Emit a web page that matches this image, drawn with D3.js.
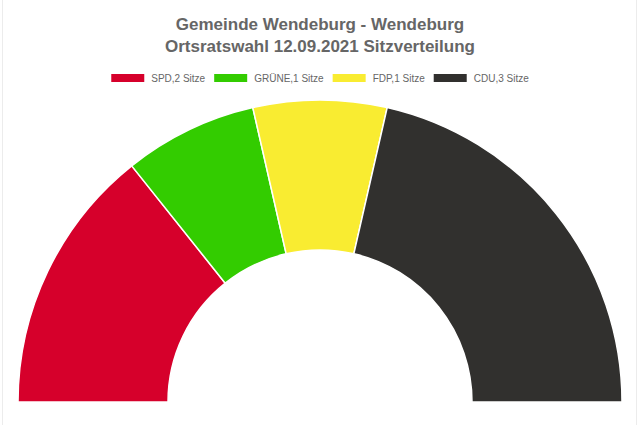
<!DOCTYPE html>
<html>
<head>
<meta charset="utf-8">
<script src="https://cdn.jsdelivr.net/npm/d3@7"></script>
<style>
  html, body { margin: 0; padding: 0; background: #fff; }
  svg { display: block; }
  text { font-family: "Liberation Sans", Arial, sans-serif; }
</style>
</head>
<body>
<svg id="chart" width="639" height="425"></svg>
<script>
const titleLines = ["Gemeinde Wendeburg - Wendeburg", "Ortsratswahl 12.09.2021 Sitzverteilung"];
const parties = ["SPD", "GRÜNE", "FDP", "CDU"];
const seats = [2, 1, 1, 3];
const colors = ["#D6002B", "#33CC00", "#F9EC31", "#31302E"];
const legendLabels = parties.map((p, i) => `${p},${seats[i]} Sitze`);

const svg = d3.select("#chart");
const W = 639, H = 425;

// faint frame lines
svg.append("line").attr("x1", 2.5).attr("x2", 2.5).attr("y1", 0).attr("y2", H)
  .attr("stroke", "#ececec").attr("stroke-width", 1);
svg.append("line").attr("x1", 636.5).attr("x2", 636.5).attr("y1", 0).attr("y2", H)
  .attr("stroke", "#ececec").attr("stroke-width", 1);

// title
svg.selectAll("text.title").data(titleLines).enter().append("text")
  .attr("class", "title")
  .attr("x", 320).attr("y", (d, i) => 30 + i * 21.5)
  .attr("text-anchor", "middle")
  .attr("font-weight", "bold")
  .attr("font-size", 17)
  .attr("fill", "#666")
  .text(d => d);

// legend
const legend = svg.append("g");
const items = legend.selectAll("g").data(legendLabels).enter().append("g");
items.append("rect").attr("x", 0).attr("y", 74).attr("width", 33).attr("height", 8)
  .attr("fill", (d, i) => colors[i]);
items.append("text").attr("x", 40).attr("y", 82)
  .attr("font-size", 10)
  .attr("fill", "#666")
  .text(d => d);
let xpos = 0;
const gap = 9;
items.each(function () {
  const g = d3.select(this);
  const tw = g.select("text").node().getComputedTextLength();
  g.attr("transform", `translate(${xpos},0)`);
  xpos += 40 + tw + gap;
});
const totalW = xpos - gap;
legend.attr("transform", `translate(${320 - totalW / 2},0)`);

// half donut
const cx = 320, cy = 402, rOuter = 302, rInner = 152;
const pie = d3.pie().sort(null).value(d => d)
  .startAngle(-Math.PI / 2).endAngle(Math.PI / 2);
const arc = d3.arc().innerRadius(rInner).outerRadius(rOuter);
svg.append("g").attr("transform", `translate(${cx},${cy})`)
  .selectAll("path").data(pie(seats)).enter().append("path")
  .attr("d", arc)
  .attr("fill", (d, i) => colors[i])
  .attr("stroke", "#fff")
  .attr("stroke-width", 1.5)
  .attr("stroke-linejoin", "round");
</script>
</body>
</html>
